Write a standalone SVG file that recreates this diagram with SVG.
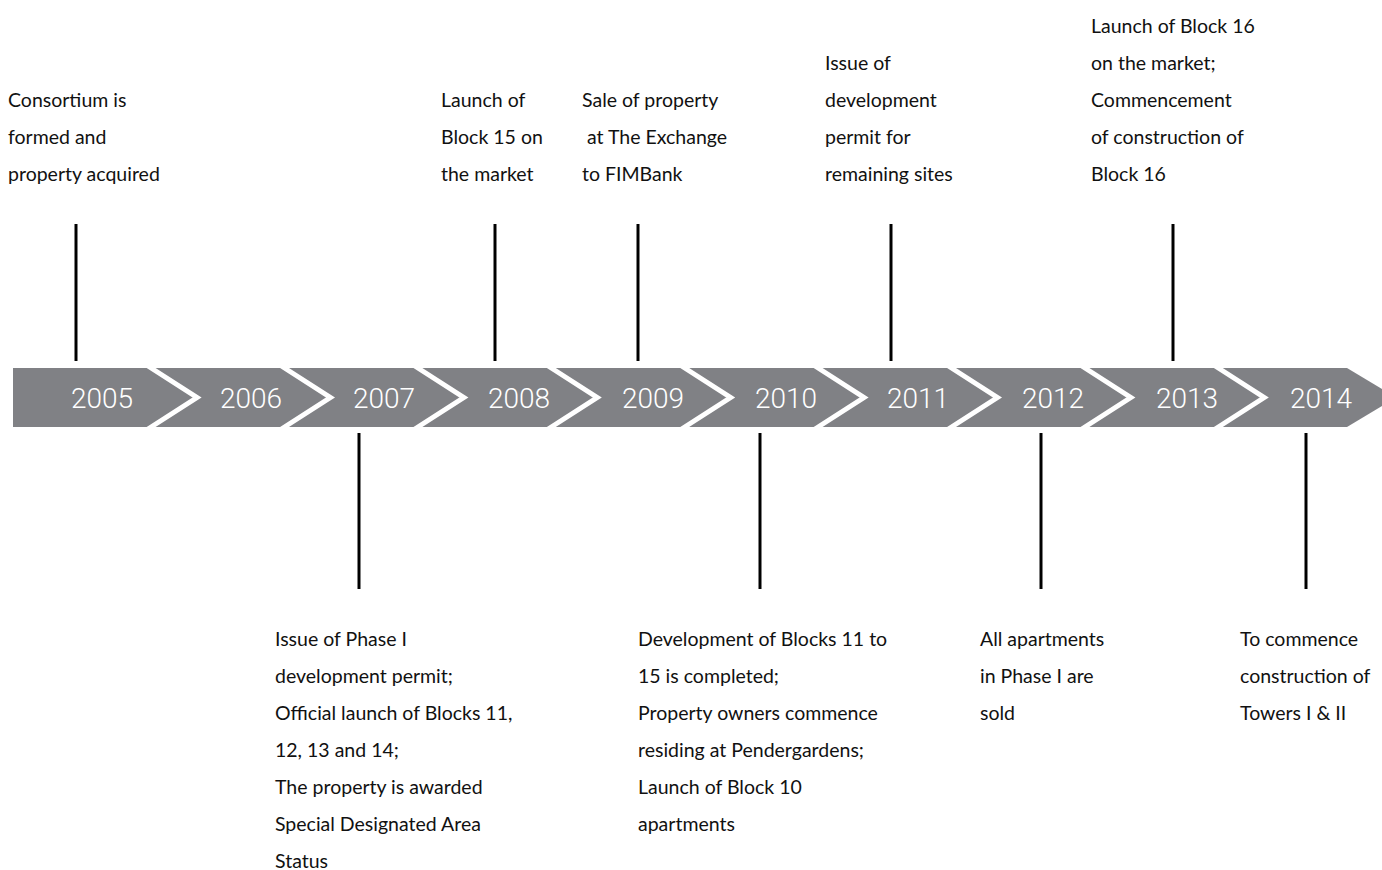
<svg xmlns="http://www.w3.org/2000/svg" width="1382" height="870" viewBox="0 0 1382 870">
<style>
.lbl{font-family:Lato,"Open Sans","Liberation Sans",sans-serif;font-size:19.5px;fill:#111}
.yr{font-family:Roboto,"Open Sans",sans-serif;font-weight:300;font-size:28px;fill:#fff;text-anchor:middle}
.tick{stroke:#000;stroke-width:3;fill:none}
.chev{stroke:#fff;stroke-width:5;fill:none;stroke-linejoin:miter}
</style>
<rect width="1382" height="870" fill="#fff"/>
<g id="band">
<polygon points="13,368 1347,368 1396,397.5 1347,427 13,427" fill="#808185"/>
<polyline class="chev" points="148,366 197,397.5 148,429"/>
<polyline class="chev" points="281.4,366 330.4,397.5 281.4,429"/>
<polyline class="chev" points="414.8,366 463.8,397.5 414.8,429"/>
<polyline class="chev" points="548.2,366 597.2,397.5 548.2,429"/>
<polyline class="chev" points="681.6,366 730.6,397.5 681.6,429"/>
<polyline class="chev" points="815,366 864,397.5 815,429"/>
<polyline class="chev" points="948.4,366 997.4,397.5 948.4,429"/>
<polyline class="chev" points="1081.8,366 1130.8,397.5 1081.8,429"/>
<polyline class="chev" points="1215.2,366 1264.2,397.5 1215.2,429"/>
<text class="yr" x="102" y="408">2005</text>
<text class="yr" x="251" y="408">2006</text>
<text class="yr" x="384" y="408">2007</text>
<text class="yr" x="519" y="408">2008</text>
<text class="yr" x="653" y="408">2009</text>
<text class="yr" x="786" y="408">2010</text>
<text class="yr" x="918" y="408">2011</text>
<text class="yr" x="1053" y="408">2012</text>
<text class="yr" x="1187" y="408">2013</text>
<text class="yr" x="1321" y="408">2014</text>
</g>
<g id="connectors">
<line class="tick" x1="76" y1="224" x2="76" y2="361"/>
<line class="tick" x1="495" y1="224" x2="495" y2="361"/>
<line class="tick" x1="638" y1="224" x2="638" y2="361"/>
<line class="tick" x1="891" y1="224" x2="891" y2="361"/>
<line class="tick" x1="1173" y1="224" x2="1173" y2="361"/>
<line class="tick" x1="359" y1="433" x2="359" y2="589"/>
<line class="tick" x1="760" y1="433" x2="760" y2="589"/>
<line class="tick" x1="1041" y1="433" x2="1041" y2="589"/>
<line class="tick" x1="1306" y1="433" x2="1306" y2="589"/>
</g>
<g id="e2005">
<text class="lbl" x="8" y="107">Consortium is</text>
<text class="lbl" x="8" y="144">formed and</text>
<text class="lbl" x="8" y="181">property acquired</text>
</g>
<g id="e2008">
<text class="lbl" x="441" y="107">Launch of</text>
<text class="lbl" x="441" y="144">Block 15 on</text>
<text class="lbl" x="441" y="181">the market</text>
</g>
<g id="e2009">
<text class="lbl" x="582" y="107">Sale of property</text>
<text class="lbl" x="587" y="144">at The Exchange</text>
<text class="lbl" x="582" y="181">to FIMBank</text>
</g>
<g id="e2011">
<text class="lbl" x="825" y="70">Issue of</text>
<text class="lbl" x="825" y="107">development</text>
<text class="lbl" x="825" y="144">permit for</text>
<text class="lbl" x="825" y="181">remaining sites</text>
</g>
<g id="e2013">
<text class="lbl" x="1091" y="33">Launch of Block 16</text>
<text class="lbl" x="1091" y="70">on the market;</text>
<text class="lbl" x="1091" y="107">Commencement</text>
<text class="lbl" x="1091" y="144">of construction of</text>
<text class="lbl" x="1091" y="181">Block 16</text>
</g>
<g id="e2007">
<text class="lbl" x="275" y="646">Issue of Phase I</text>
<text class="lbl" x="275" y="683">development permit;</text>
<text class="lbl" x="275" y="720">Official launch of Blocks 11,</text>
<text class="lbl" x="275" y="757">12, 13 and 14;</text>
<text class="lbl" x="275" y="794">The property is awarded</text>
<text class="lbl" x="275" y="831">Special Designated Area</text>
<text class="lbl" x="275" y="868">Status</text>
</g>
<g id="e2010">
<text class="lbl" x="638" y="646">Development of Blocks 11 to</text>
<text class="lbl" x="638" y="683">15 is completed;</text>
<text class="lbl" x="638" y="720">Property owners commence</text>
<text class="lbl" x="638" y="757">residing at Pendergardens;</text>
<text class="lbl" x="638" y="794">Launch of Block 10</text>
<text class="lbl" x="638" y="831">apartments</text>
</g>
<g id="e2012">
<text class="lbl" x="980" y="646">All apartments</text>
<text class="lbl" x="980" y="683">in Phase I are</text>
<text class="lbl" x="980" y="720">sold</text>
</g>
<g id="e2014">
<text class="lbl" x="1240" y="646">To commence</text>
<text class="lbl" x="1240" y="683">construction of</text>
<text class="lbl" x="1240" y="720">Towers I &amp; II</text>
</g>
</svg>
